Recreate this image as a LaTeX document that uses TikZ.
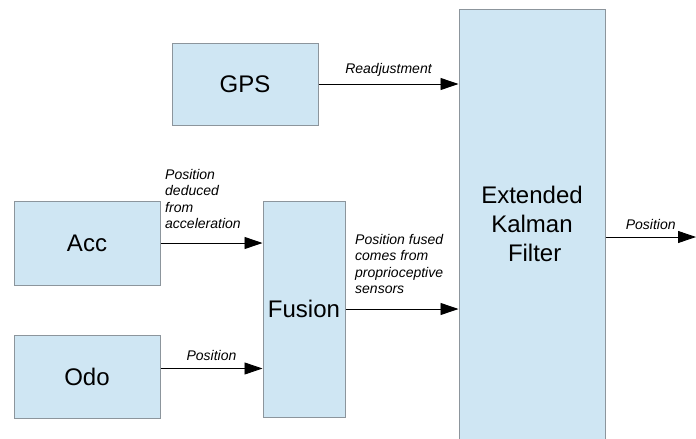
\documentclass[tikz,border=0pt]{standalone}
\usepackage{fontspec}
\setmainfont{Liberation Sans}
\usepackage{tikz}
\usetikzlibrary{arrows.meta, positioning}

\definecolor{boxfill}{HTML}{CFE6F3}
\definecolor{boxline}{HTML}{8C959C}

\tikzset{
    block/.style={draw=boxline, fill=boxfill, line width=1pt, rectangle, align=center,
        font=\fontsize{24}{29}\selectfont},
    lbl/.style={font=\fontsize{14}{16.5}\selectfont\itshape, align=left, inner sep=0pt},
    link/.style={-{Triangle[length=18pt, width=12pt]}, line width=0.9pt}
}

\begin{document}
\begin{tikzpicture}[x=1pt, y=1pt, node distance=49pt]
    \useasboundingbox (0,0) rectangle (696,-439);

    \node[block, minimum width=146pt, minimum height=82pt] (gps) at (245,-84) {GPS};
    \node[block, minimum width=146pt, minimum height=84pt] (acc) at (87,-243) {Acc};
    \node[block, minimum width=146pt, minimum height=83pt, below=of acc] (odo) {Odo};
    \node[block, minimum width=82pt, minimum height=216pt, inner sep=0pt] (fusion) at (304,-309) {Fusion};
    \node[block, minimum width=146pt, minimum height=430pt] (ekf) at (532,-224) {Extended\\Kalman\\\hphantom{i}Filter};
    \coordinate (odoout) at ([yshift=8pt]odo.east);
    \coordinate (out) at (696,-237);

    \draw[link] (gps.east) -- node[lbl, above=7pt] {Readjustment} (ekf.west |- gps.east);
    \draw[link] (acc.east) -- (fusion.west |- acc.east);
    \draw[link] (odoout) -- node[lbl, above=7pt] {Position} (fusion.west |- odoout);
    \draw[link] (fusion.east) -- (ekf.west |- fusion.east);
    \draw[link] (ekf.east |- out) -- node[lbl, above=7pt] {Position} (out);

    \node[lbl, anchor=north west] (acclbl) at (165,-169) {Position\\deduced\\from\\acceleration};
    \node[lbl, anchor=north west] (fuslbl) at (355,-234) {Position fused\\comes from\\proprioceptive\\sensors};
\end{tikzpicture}
\end{document}
